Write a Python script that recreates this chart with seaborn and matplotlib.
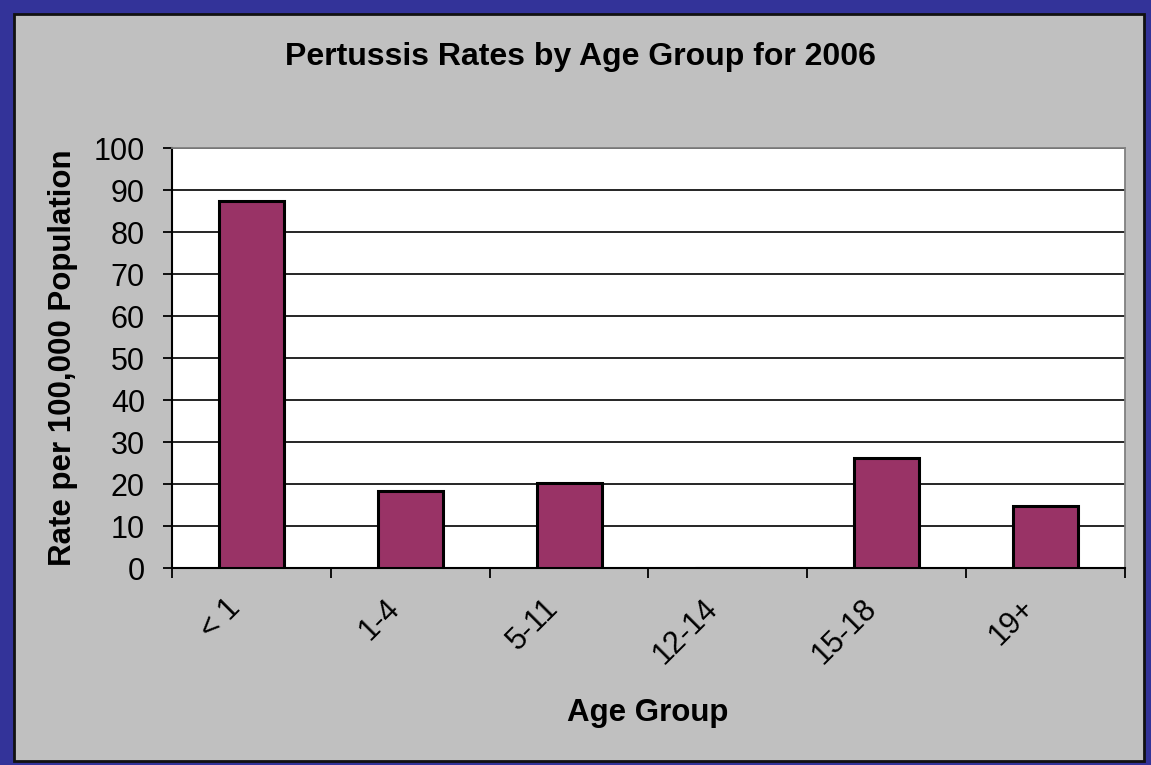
import matplotlib
matplotlib.use("Agg")
import matplotlib.pyplot as plt
import matplotlib.transforms as mtransforms
import seaborn as sns
import pandas as pd
from matplotlib.patches import Rectangle

categories = ["< 1", "1-4", "5-11", "12-14", "15-18", "19+"]
rates = [87.3, 18.4, 20.3, 0.0, 26.2, 14.7]
yticks = [0, 10, 20, 30, 40, 50, 60, 70, 80, 90, 100]

sns.set_theme(style="white")
plt.rcParams['font.family'] = ['Liberation Sans', 'DejaVu Sans']
plt.rcParams['text.color'] = 'black'
plt.rcParams['xtick.color'] = 'black'
plt.rcParams['ytick.color'] = 'black'

df = pd.DataFrame({"Age Group": categories, "Rate": rates})

W, H = 1151, 765
fig = plt.figure(figsize=(W / 100, H / 100), dpi=100)
fig.patch.set_facecolor("#333399")
# inner gray panel with black outline
fig.patches.append(Rectangle((14 / W, 1 - 761 / H), (1144 - 14) / W, (761 - 14) / H,
                             transform=fig.transFigure, facecolor="#C0C0C0",
                             edgecolor="#111111", linewidth=2, zorder=-5))

ax = fig.add_axes([172 / W, 1 - 568 / H, (1125 - 172) / W, (568 - 148) / H])
ax.set_zorder(2)
ax.set_facecolor("white")

sns.barplot(data=df, x="Age Group", y="Rate", order=categories, ax=ax,
            color="#993366", saturation=1, width=0.41,
            edgecolor="black", linewidth=2.2, zorder=3)

ax.set_xlim(-0.5, len(categories) - 0.5)
ax.set_ylim(0, 100)
ax.set_yticks(yticks)
ax.set_yticklabels([str(v) for v in yticks], fontsize=22)
ax.yaxis.grid(True, color="black", linewidth=1.2, zorder=1)
ax.set_axisbelow(True)

# tick marks at category boundaries, labels at centers
ax.set_xticks([i - 0.5 for i in range(len(categories) + 1)])
ax.set_xticklabels([])
ax.set_xticks(range(len(categories)), minor=True)
ax.set_xticklabels(categories, minor=True, rotation=45, ha="right", va="center",
                   rotation_mode="anchor", fontsize=22)
ax.tick_params(axis="x", which="minor", length=0, pad=26)
ax.tick_params(axis="x", which="major", length=7, width=1.3, color="black", direction="out", bottom=True)
ax.tick_params(axis="y", length=6.5, width=1.3, color="black", direction="out", left=True, pad=13)
shift = mtransforms.ScaledTranslation(-15 / 100, 0, fig.dpi_scale_trans)
for lbl in ax.get_xticklabels(minor=True):
    lbl.set_transform(lbl.get_transform() + shift)

for side in ["top", "right"]:
    ax.spines[side].set_color("#808080")
    ax.spines[side].set_linewidth(1.3)
for side in ["left", "bottom"]:
    ax.spines[side].set_color("black")
    ax.spines[side].set_linewidth(1.5)

ax.set_xlabel("")
ax.set_ylabel("")
fig.text(63 / W, 1 - 358 / H, "Rate per 100,000 Population", rotation=90,
         ha="center", va="center", fontsize=22.5, fontweight="bold")
fig.text(648 / W, 1 - 713 / H, "Age Group", ha="center", va="center",
         fontsize=22.5, fontweight="bold")
fig.text(580 / W, 1 - 57 / H, "Pertussis Rates by Age Group for 2006",
         ha="center", va="center", fontsize=23, fontweight="bold")

fig.savefig("out.png", dpi=100, facecolor=fig.get_facecolor())
